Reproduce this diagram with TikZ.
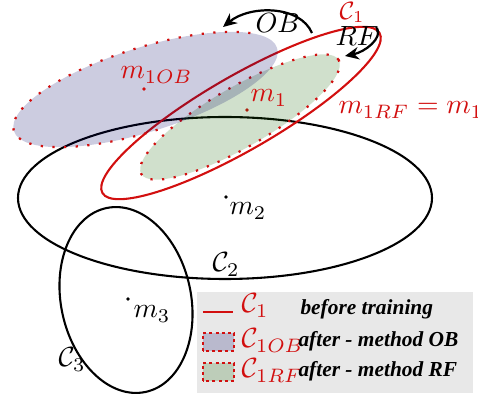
\documentclass[tikz,border=0pt]{standalone}
\usepackage{fontspec}
\newfontfamily\legfont{Liberation Serif}
\usetikzlibrary{arrows.meta}
\definecolor{myred}{RGB}{210,15,15}
\definecolor{leggray}{RGB}{232,232,232}
\definecolor{obblue}{RGB}{0,0,100}
\definecolor{rfgreen}{RGB}{20,100,0}
\begin{document}
\begin{tikzpicture}[x=0.36pt,y=0.36pt,
  curve/.style={line width=0.75pt},
  redcurve/.style={curve, draw=myred},
  dotborder/.style={draw=myred, line width=0.8pt, dash pattern=on 0.8pt off 3.4pt},
  legborder/.style={draw=myred, line width=0.7pt, dash pattern=on 1.1pt off 1.1pt},
  obfill/.style={fill=obblue, fill opacity=0.2},
  rffill/.style={fill=rfgreen, fill opacity=0.2},
  lbl/.style={inner sep=0pt, anchor=base west},
  redlbl/.style={lbl, text=myred},
  dotpt/.style={circle, fill, inner sep=0pt, minimum size=1.3pt},
  bendarrow/.style={line width=0.8pt, -{Stealth[length=5pt,width=4.5pt]}},
  legtext/.style={lbl, font=\legfont\bfseries\itshape\fontsize{7.7}{9}\selectfont},
]
\useasboundingbox (0,0) rectangle (478,395);
% black clusters
\draw[curve] (225,197) ellipse [x radius=207, y radius=81];
\draw[curve, rotate around={12:(126,95)}] (126,95) ellipse [x radius=65, y radius=94];
% red cluster before training
\draw[redcurve, rotate around={30:(241,282)}] (241,282) ellipse [x radius=160, y radius=37];
\node[dotpt, fill=myred] (m1) at (247,285) {};
% after training: method RF
\begin{scope}[shift={(240,278)}, rotate=30]
  \fill[rffill] (0,0) ellipse [x radius=114, y radius=30];
  \draw[dotborder] (0,0) ellipse [x radius=114, y radius=30];
\end{scope}
% after training: method OB
\begin{scope}[shift={(145.5,305.5)}, rotate=17.5]
  \fill[obfill] (0,0) ellipse [x radius=138, y radius=42];
  \draw[dotborder] (32:138 and 42) arc [start angle=32, end angle=272, x radius=138, y radius=42];
\end{scope}
\node[dotpt, fill=myred] (m1ob) at (144,306) {};
\node[dotpt] (m2) at (226,198) {};
\node[dotpt] (m3) at (128,96) {};
% labels
\node[redlbl, font=\small] (lc1) at (339,375) {$\mathcal{C}_1$};
\node[redlbl] (lm1ob) at (120,316) {$m_{1OB}$};
\node[redlbl] (lm1) at (250,293) {$m_1$};
\node[redlbl] (lm1rf) at (338,281) {$m_{1RF}=m_1$};
\node[lbl] (lm2) at (229,180) {$m_2$};
\node[lbl] (lm3) at (133,77) {$m_3$};
\node[lbl] (lc2) at (212,123) {$\mathcal{C}_2$};
\node[lbl] (lc3) at (58,28) {$\mathcal{C}_3$};
\node[lbl] (lob) at (255,362) {$OB$};
\node[lbl] (lrf) at (335,349) {$RF$};
% arrows
\coordinate (obs) at (312,362);
\coordinate (obe) at (223,368);
\draw[bendarrow] (obs) .. controls (300,390) and (250,390) .. (obe);
\coordinate (rfs) at (377,367);
\coordinate (rfe) at (345,339);
\draw[bendarrow] (rfs) .. controls (383,357) and (365,343) .. (rfe);
% legend
\fill[leggray] (197,2) rectangle (473,103);
\coordinate (l1a) at (203,83);
\coordinate (l1b) at (233,83);
\draw[redcurve] (l1a) -- (l1b);
\fill[obfill] (203,44) rectangle (234,62);
\draw[legborder] (203,44) rectangle (234,62);
\fill[rffill] (203,14) rectangle (234,32);
\draw[legborder] (203,14) rectangle (234,32);
\node[redlbl] (g1) at (241,82) {$\mathcal{C}_1$};
\node[redlbl] (g2) at (241,47) {$\mathcal{C}_{1OB}$};
\node[redlbl] (g3) at (241,17) {$\mathcal{C}_{1RF}$};
\node[legtext] (t1) at (300,80) {before training};
\node[legtext] (t2) at (298,48) {after - method OB};
\node[legtext] (t3) at (298,18) {after - method RF};
\end{tikzpicture}
\end{document}
